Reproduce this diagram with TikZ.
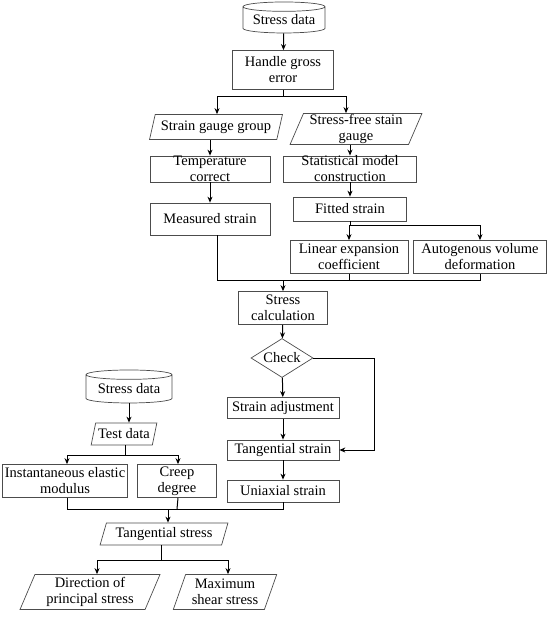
\documentclass[tikz,border=0pt]{standalone}
\usepackage{fontspec}
\setmainfont{Liberation Serif}
\usetikzlibrary{shapes.geometric,arrows.meta}

\begin{document}
\begin{tikzpicture}
[x=1pt,y=-1pt,%
  every node/.style={draw=black!70,line width=0.7pt,inner sep=0pt,align=center,%
    font=\fontsize{14.5}{16}\selectfont},%
  proc/.style={rectangle},%
  io/.style={trapezium,trapezium left angle=68,trapezium right angle=112,%
    trapezium stretches=true},%
  db/.style={cylinder,shape border rotate=90,aspect=0.15},%
  chk/.style={diamond,aspect=1.6},%
  arr/.style={->,>={Stealth[length=6pt,width=5pt]},line width=1pt},%
  ln/.style={-,line width=1pt}]
\useasboundingbox (0,0) rectangle (550,617);
% right branch
\node[db,minimum width=82pt,minimum height=31pt] (sd) at (284,20) {Stress data};
\node[proc,minimum width=101pt,minimum height=39pt] (hge) at (283,70) {Handle gross\\error};
\node[io,minimum width=133pt,minimum height=25pt] (sgg) at (216,127) {Strain gauge group};
\node[io,minimum width=132pt,minimum height=31pt] (sfsg) at (356,129) {Stress-free stain\\gauge};
\node[proc,minimum width=120pt,minimum height=26pt] (tc) at (210,169) {Temperature\\correct};
\node[proc,minimum width=133pt,minimum height=26pt] (smc) at (350,169) {Statistical model\\construction};
\node[proc,minimum width=120pt,minimum height=32pt] (ms) at (210,219) {Measured strain};
\node[proc,minimum width=113pt,minimum height=24pt] (fs) at (350,209) {Fitted strain};
\node[proc,minimum width=118pt,minimum height=33pt] (lec) at (349,257) {Linear expansion\\coefficient};
\node[proc,minimum width=133pt,minimum height=33pt] (avd) at (480,257) {Autogenous volume\\deformation};
\node[proc,minimum width=89pt,minimum height=33pt] (sc) at (283,308) {Stress\\calculation};
\node[chk,minimum width=62pt,minimum height=39pt] (ck) at (282,358) {Check};
\node[proc,minimum width=112pt,minimum height=21pt] (sa) at (283,408) {Strain adjustment};
\node[proc,minimum width=112pt,minimum height=20pt] (ts) at (283,450) {Tangential strain};
\node[proc,minimum width=112pt,minimum height=22pt] (us) at (283,491) {Uniaxial strain};
% left branch
\node[db,minimum width=86pt,minimum height=33pt] (sd2) at (129,389) {Stress data};
\node[io,minimum width=66pt,minimum height=22pt] (td) at (124,434) {Test data};
\node[proc,minimum width=125pt,minimum height=33pt] (iem) at (65,481) {Instantaneous elastic\\modulus};
\node[proc,minimum width=79pt,minimum height=33pt] (cd) at (177,481) {Creep\\degree};
\node[io,minimum width=128pt,minimum height=22pt] (tsr) at (164,534) {Tangential stress};
\node[io,minimum width=140pt,minimum height=35pt] (dps) at (90,592) {Direction of\\principal stress};
\node[io,minimum width=104pt,minimum height=35pt] (mss) at (225,592) {Maximum\\shear stress};
% joints
\coordinate (j1) at (283,97);
\coordinate (j2) at (350,226);
\coordinate (j3) at (283,280);
\coordinate (j4) at (374,358);
\coordinate (j5) at (125,455);
\coordinate (j6) at (168,509);
\coordinate (j7) at (161,560);
% connectors
\draw[arr] (sd) -- (hge);
\draw[ln] (hge) -- (j1);
\draw[arr] (j1) -| ([xshift=1pt]sgg.north);
\draw[arr] (j1) -| ([xshift=-10pt]sfsg.north);
\draw[arr] (sgg.south -| tc.north) -- (tc);
\draw[arr] (sfsg.south -| smc.north) -- (smc);
\draw[arr] (tc) -- (ms);
\draw[arr] (smc) -- (fs);
\draw[ln] (fs) -- (j2);
\draw[arr] (j2) -| (lec.north);
\draw[arr] (j2) -| (avd.north);
\draw[ln] ([xshift=7pt]ms.south) |- (j3);
\draw[ln] (avd.south) |- (j3);
\draw[ln] (lec.south) -- (lec.south |- j3);
\draw[arr] (j3) -- (sc);
\draw[arr] (sc) -- (ck);
\draw[arr] (ck) -- (sa);
\draw[arr] (sa) -- (ts);
\draw[arr] (ts) -- (us);
\draw[ln] (ck.east) -- (j4);
\draw[arr] (j4) |- (ts.east);
\draw[arr] (sd2) -- (sd2 |- td.north);
\draw[ln] (td.south -| j5) -- (j5);
\draw[arr] (j5) -| ([xshift=2pt]iem.north);
\draw[arr] (j5) -| ([xshift=1pt]cd.north);
\draw[ln] ([xshift=2pt]iem.south) |- (j6);
\draw[ln] ([xshift=1pt]cd.south) -- (cd.south |- j6);
\draw[ln] (us.south) |- (j6);
\draw[arr] (j6) -- (j6 |- tsr.north);
\draw[ln] (tsr.south -| j7) -- (j7);
\draw[arr] (j7) -| ([xshift=7pt]dps.north);
\draw[arr] (j7) -| ([xshift=3pt]mss.north);
\end{tikzpicture}
\end{document}
